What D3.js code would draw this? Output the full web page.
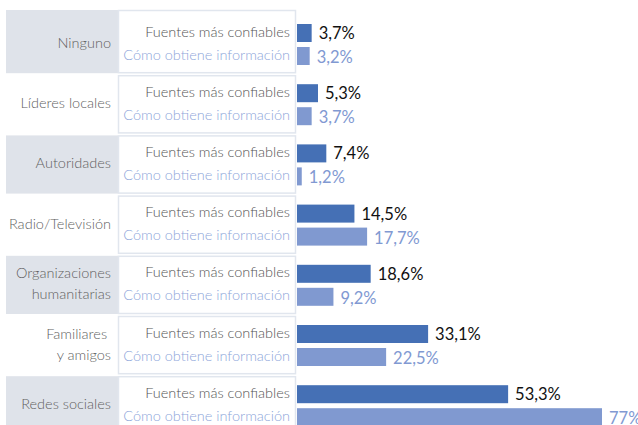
<!DOCTYPE html>
<html>
<head>
<meta charset="utf-8">
<script src="https://cdn.jsdelivr.net/npm/d3@7"></script>
<style>
  body { margin: 0; background: #fff; }
  text { font-family: Lato, "Open Sans", sans-serif; font-weight: 300; }
  text.value { font-weight: 400; }
</style>
</head>
<body>
<svg id="chart" width="638" height="425"></svg>
<script>
var categories = ["Ninguno", "Líderes locales", "Autoridades", "Radio/Televisión",
                  "Organizaciones humanitarias", "Familiares y amigos", "Redes sociales"];
var categoryLines = [["Ninguno"], ["Líderes locales"], ["Autoridades"], ["Radio/Televisión"],
                     ["Organizaciones", "humanitarias"], ["Familiares ", "y amigos"], ["Redes sociales"]];
var seriesNames = ["Fuentes más confiables", "Cómo obtiene información"];
var confiables = [3.7, 5.3, 7.4, 14.5, 18.6, 33.1, 53.3];
var obtiene = [3.2, 3.7, 1.2, 17.7, 9.2, 22.5, 77];
var valueLabels = [
  ["3,7%", "5,3%", "7,4%", "14,5%", "18,6%", "33,1%", "53,3%"],
  ["3,2%", "3,7%", "1,2%", "17,7%", "9,2%", "22,5%", "77%"]
];

var svg = d3.select("#chart");
var barColors = ["#4570b5", "#8099d0"];
var textColors = ["#111", "#8199d2"];

var y = d3.scaleBand().domain(categories).range([14, 14 + 7 * 60.2]);
var x = d3.scaleLinear().domain([0, 77]).range([297, 602]);

var rows = svg.selectAll(".row")
    .data(categories)
  .enter().append("g")
    .attr("class", "row")
    .attr("transform", function(d) { return "translate(0," + y(d) + ")"; });

// grey cell for every other category
rows.filter(function(d, i) { return i % 2 === 0; })
  .append("rect")
    .attr("x", 6)
    .attr("y", function(d, i) { return i === 0 ? -4 : 1; })
    .attr("width", 112)
    .attr("height", function(d, i) { return i === 0 ? y.bandwidth() + 3 : y.bandwidth() - 2; })
    .attr("fill", "#dfe3ea");

// series label cell
rows.append("rect")
    .attr("x", 118.5)
    .attr("y", function(d, i) { return i === 0 ? -3.5 : 1.5; })
    .attr("width", 177)
    .attr("height", function(d, i) { return i === 0 ? y.bandwidth() + 2 : y.bandwidth() - 3; })
    .attr("fill", "#fff")
    .attr("stroke", "#e1e6ee")
    .attr("stroke-width", 1.5);

// category names
rows.append("text")
    .attr("x", 111)
    .attr("y", y.bandwidth() / 2 + 4)
    .attr("text-anchor", "end")
    .attr("fill", "#5f5f5f")
    .style("font-size", "14.5px")
    .style("white-space", "pre")
    .each(function(d, i) {
      var lines = categoryLines[i];
      var t = d3.select(this);
      lines.forEach(function(l, j) {
        t.append("tspan")
          .attr("x", 111)
          .attr("dy", j === 0 ? (-(lines.length - 1) * 10.5) + "px" : "21px")
          .text(l);
      });
    });

var offsets = [10, 33];
var barH = 18;

[confiables, obtiene].forEach(function(series, s) {
  rows.append("text")
      .attr("x", 290)
      .attr("y", offsets[s] + barH / 2 + 3.5)
      .attr("text-anchor", "end")
      .attr("fill", s === 0 ? "#555" : "#8ea6da")
      .style("font-size", "14.5px")
      .text(seriesNames[s]);

  rows.append("rect")
      .attr("x", x(0))
      .attr("y", offsets[s])
      .attr("width", function(d, i) { return x(series[i]) - x(0); })
      .attr("height", barH)
      .attr("fill", barColors[s]);

  rows.append("text")
      .attr("class", "value")
      .attr("x", function(d, i) { return x(series[i]) + 7; })
      .attr("y", offsets[s] + barH / 2 + 6 + s)
      .attr("fill", textColors[s])
      .style("font-size", "16.5px")
      .text(function(d, i) { return valueLabels[s][i]; });
});
</script>
</body>
</html>
